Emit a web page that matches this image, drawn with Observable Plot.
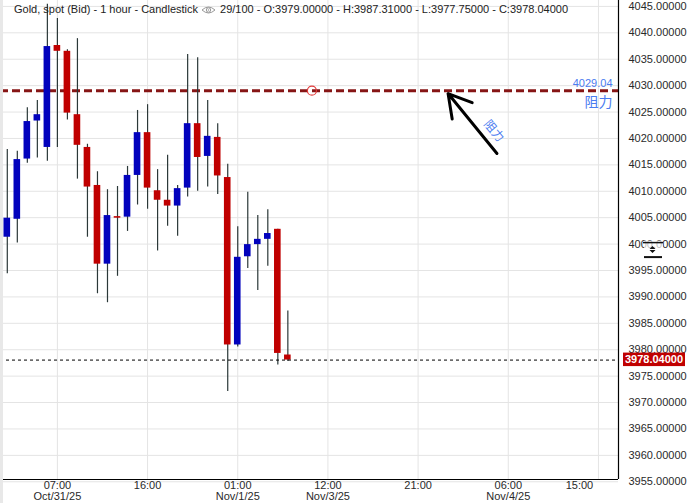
<!DOCTYPE html>
<html><head><meta charset="utf-8">
<script src="https://cdn.jsdelivr.net/npm/d3@7"></script>
<script src="https://cdn.jsdelivr.net/npm/@observablehq/plot@0.6"></script>
<style>
body{margin:0;background:#fff;font-family:"Liberation Sans",Arial,sans-serif;}
#wrap{position:relative;width:688px;height:503px;overflow:hidden;background:#fff}
#title{position:absolute;left:14px;top:3px;font-size:11px;line-height:13px;color:#222;white-space:nowrap;}
#title svg{vertical-align:-2px;margin:0 4px 0 3px}
#strip{position:absolute;left:0;top:0;width:3px;height:503px;background:#e8e8e8}
</style></head><body>
<div id="wrap"><div id="chart"></div><div id="strip"></div><div id="title"></div></div>
<script>
// ---- data (hourly candles, Gold spot bid) ----
const opens  = [4001.3,4004.7,4016.1,4023.3,4018.3,4037.6,4036.5,4024.5,4018.3,4011.1,3996.2,4005.2,4005.1,4013.0,4021.1,4010.1,4008.3,4007.2,4010.6,4022.8,4016.6,4020.2,4012.6,3980.9,3997.6,3999.9,4000.9,4002.8,3979.00];
const highs  = [4017.9,4017.6,4025.8,4027.2,4045.4,4042.7,4036.8,4038.9,4018.9,4013.7,4010.3,4010.9,4014.7,4025.3,4026.4,4014.1,4016.8,4011.1,4035.9,4035.3,4027.2,4022.8,4015.1,4003.3,4009.8,4005.4,4006.5,4002.8,3987.31];
const lows   = [3994.4,4000.2,4015.3,4016.3,4015.7,4018.3,4023.5,4012.3,4001.3,3990.6,3988.9,3993.9,4002.4,4007.4,4006.6,3998.7,4003.4,4001.5,4008.9,4010.0,4010.8,4009.4,3972.1,3980.5,3995.4,3991.2,3995.8,3977.1,3977.75];
const closes = [4004.9,4016.0,4023.2,4024.5,4037.4,4036.5,4024.8,4018.7,4010.8,3996.2,4005.4,4004.9,4013.0,4021.1,4010.6,4008.3,4007.2,4010.5,4022.8,4016.4,4020.4,4012.9,3980.9,3997.5,3999.9,4000.9,4002.0,3979.3,3978.04];

const timeTickIdx    = [5, 14, 23, 32, 41, 50, 59];
const timeTickLabels = ["07:00\nOct/31/25", "16:00", "01:00\nNov/1/25", "12:00\nNov/3/25", "21:00", "06:00\nNov/4/25", "15:00"];
const priceTicks = d3.range(3955, 4046, 5);

const resistance = 4029.04;
const resistanceLabel = "阻力";
const lastPrice = 3978.04;
const circleMarker = [{i: 30.4, p: resistance}];
const arrowAnno = [{x1: 48.87, y1: 4017.15, x2: 43.99, y2: 4028.5}];
const arrowText = [{i: 48.57, p: 4021.4, t: "阻力"}];
const titleMain = "Gold, spot (Bid) - 1 hour - Candlestick";
const barsInfo = "29/100";

// ---- build ----
const candles = opens.map((o, i) => ({i, o, h: highs[i], l: lows[i], c: closes[i]}));
const xDomain = [-0.678, 61.0];
const yDomain = [3955.43, 4046.12];
const blue = "#0202bd", red = "#c00000", wick = "#2b3838", annoBlue = "#4a7cf0";
const fmt5 = d3.format(".5f");
const labelOf = new Map(timeTickIdx.map((d, k) => [d, timeTickLabels[k]]));
const lastTick = timeTickIdx[timeTickIdx.length - 1];

const chart = Plot.plot({
  width: 688, height: 503,
  marginLeft: 0, marginRight: 70, marginTop: 0, marginBottom: 24,
  style: {fontFamily: "Liberation Sans, Arial, sans-serif", fontSize: "11px", color: "#333", background: "#fff", overflow: "visible"},
  x: {domain: xDomain},
  y: {domain: yDomain},
  marks: [
    Plot.gridY(priceTicks, {stroke: "#e4e4e4", strokeOpacity: 1}),
    Plot.gridX(timeTickIdx, {stroke: "#e4e4e4", strokeOpacity: 1}),
    Plot.axisY(priceTicks, {anchor: "right", tickSize: 0, tickPadding: 10, tickFormat: fmt5, fill: "#2a2a2a", fontSize: 11}),
    Plot.axisX(timeTickIdx.filter(d => d !== lastTick), {anchor: "bottom", tickSize: 0, tickPadding: 2, tickFormat: d => labelOf.get(d), fill: "#2a2a2a", fontSize: 11, lineHeight: 1}),
    Plot.axisX([lastTick], {anchor: "bottom", tickSize: 0, tickPadding: 2, tickFormat: d => labelOf.get(d), fill: "#2a2a2a", fontSize: 11, dx: -19}),
    Plot.ruleY([resistance], {stroke: "#861515", strokeWidth: 3, strokeDasharray: "8,4"}),
    Plot.ruleX(candles, {x: "i", y1: "l", y2: "h", stroke: wick, strokeWidth: 1.2}),
    Plot.rect(candles, {x1: d => d.i - 0.33, x2: d => d.i + 0.33, y1: "o", y2: "c", fill: d => d.c >= d.o ? blue : red}),
    Plot.ruleY([lastPrice], {stroke: "#000", strokeWidth: 1, strokeDasharray: "3,3"}),
    Plot.ruleX([xDomain[1]], {stroke: "#000", strokeWidth: 1.2}),
    Plot.ruleY([yDomain[0]], {stroke: "#000", strokeWidth: 1.2}),
    Plot.dot(circleMarker, {x: "i", y: "p", r: 4.5, stroke: "#e23a3a", strokeWidth: 1.2, fill: "none"}),
    Plot.text([resistance], {y: d => d, frameAnchor: "right", textAnchor: "end", dx: -6, dy: -7, text: d => d.toFixed(2), fill: annoBlue, fontSize: 11}),
    Plot.text([resistanceLabel], {y: () => resistance, frameAnchor: "right", textAnchor: "end", dx: -6, dy: 12, text: d => d, fill: annoBlue, fontSize: 14, fontFamily: "Noto Sans CJK SC"}),
    Plot.arrow(arrowAnno, {x1: "x1", y1: "y1", x2: "x2", y2: "y2", stroke: "#000", strokeWidth: 3, headLength: 13}),
    Plot.text(arrowText, {x: "i", y: "p", text: "t", rotate: 50, fill: annoBlue, fontSize: 12, fontFamily: "Noto Sans CJK SC"})
  ]
});
document.getElementById("chart").appendChild(chart);

// last price tag on the axis, and the axis scroll handle
const yS = chart.scale("y"), xS = chart.scale("x");
const svg = d3.select(chart);
const yp = yS.apply(lastPrice);
const axX = xS.apply(xDomain[1]);
const tag = svg.append("g");
tag.append("rect").attr("x", axX + 5).attr("y", yp - 7).attr("width", 62).attr("height", 13.5).attr("fill", red);
tag.append("text").attr("x", axX + 36).attr("y", yp).attr("dy", "0.35em").attr("text-anchor", "middle")
  .attr("fill", "#fff").attr("font-weight", "bold").attr("font-size", 11).text(fmt5(lastPrice));
const yh = yS.apply(4000);
const h = svg.append("g");
h.append("rect").attr("x", axX + 26).attr("y", yh - 3).attr("width", 19).attr("height", 8).attr("fill", "#fff").attr("fill-opacity", 0.7);
h.append("line").attr("x1", axX + 25).attr("x2", axX + 45).attr("y1", yh - 1).attr("y2", yh - 1).attr("stroke", "#111").attr("stroke-width", 1.5);
h.append("path").attr("d", `M${axX+31.5},${yh+5.5}l3,-3l3,3z M${axX+31.5},${yh+6.5}l3,3l3,-3z`).attr("fill", "#111");
h.append("line").attr("x1", axX + 26).attr("x2", axX + 44).attr("y1", yh + 13.5).attr("y2", yh + 13.5).attr("stroke", "#111").attr("stroke-width", 2);

// title
const eye = `<svg width="15" height="10" viewBox="0 0 15 10"><path d="M1,5 Q7.5,-1 14,5 Q7.5,11 1,5Z" fill="none" stroke="#999" stroke-width="1"/><circle cx="7.5" cy="5" r="2.2" fill="none" stroke="#999" stroke-width="1"/><circle cx="7.5" cy="5" r="0.8" fill="#999"/></svg>`;
const last = candles[candles.length - 1];
document.getElementById("title").innerHTML =
  `${titleMain}${eye}${barsInfo} - O:${fmt5(last.o)} - H:${fmt5(last.h)} - L:${fmt5(last.l)} - C:${fmt5(last.c)}`;
</script>
</body></html>
